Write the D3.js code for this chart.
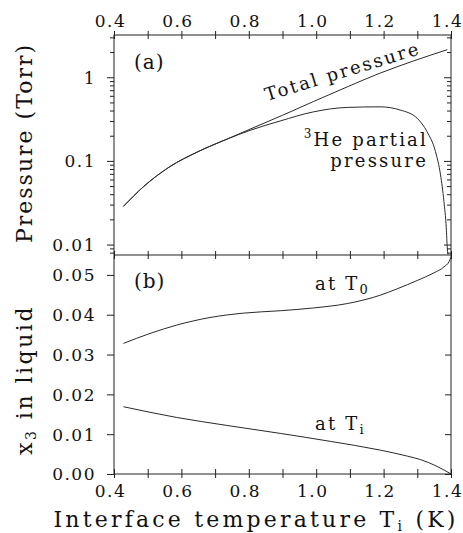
<!DOCTYPE html>
<html><head><meta charset="utf-8">
<script src="https://cdn.jsdelivr.net/npm/d3@7"></script>
<style>
body{margin:0;background:#fff;}
text{font-family:"DejaVu Serif",serif;fill:#111;}
</style></head>
<body><svg id="c" width="463" height="533"></svg>
<script>
// ---- data ----
const xTicks = [0.4, 0.6, 0.8, 1.0, 1.2, 1.4];
const pTicks = [0.01, 0.1, 1];
const xTicksB = [0.00, 0.01, 0.02, 0.03, 0.04, 0.05];

const totalT = [0.428, 0.487, 0.566, 0.646, 0.735, 0.804, 0.90, 0.992, 1.092, 1.19, 1.289, 1.389];
const totalP = [0.0286, 0.049, 0.0855, 0.127, 0.182, 0.240, 0.351, 0.513, 0.767, 1.122, 1.567, 2.138];

const partialT = [0.428, 0.487, 0.566, 0.646, 0.735, 0.804, 0.893, 0.992, 1.092, 1.19, 1.25, 1.30, 1.329, 1.354, 1.369, 1.379, 1.386, 1.389, 1.391];
const partialP = [0.0286, 0.049, 0.0855, 0.127, 0.182, 0.232, 0.30, 0.386, 0.436, 0.443, 0.405, 0.322, 0.223, 0.129, 0.068, 0.0328, 0.0158, 0.0091, 0.0076];

const t0T = [0.428, 0.507, 0.586, 0.685, 0.784, 0.893, 0.992, 1.092, 1.15, 1.19, 1.24, 1.30, 1.349, 1.379, 1.394, 1.4];
const t0X = [0.0328, 0.0353, 0.0374, 0.0393, 0.0404, 0.0410, 0.0417, 0.0428, 0.0439, 0.0449, 0.0465, 0.0486, 0.0505, 0.0520, 0.0533, 0.0545];

const tiT = [0.428, 0.586, 0.735, 0.893, 1.042, 1.19, 1.27, 1.31, 1.359, 1.4];
const tiX = [0.0169, 0.0142, 0.0122, 0.0102, 0.0082, 0.0060, 0.0045, 0.0036, 0.0019, 0.0];

// ---- layout ----
const svg = d3.select("#c");
const x = d3.scaleLinear().domain([0.4, 1.4]).range([114, 451]);
const yA = d3.scaleLog().domain([0.0075, 3.2]).range([255, 35]);
const yB = d3.scaleLinear().domain([0, 0.055]).range([474, 255]);
const ink = "#222";

function line(xs, ys, yscale) {
  return d3.line().x(d => x(d[0])).y(d => yscale(d[1])).curve(d3.curveMonotoneX)(xs.map((v, i) => [v, ys[i]]));
}
function applyAttrs(sel, o){ for (const k in o) sel.attr(k, o[k]); return sel; }

// frames
svg.append("rect").attr("x", 114).attr("y", 35).attr("width", 337).attr("height", 439)
  .attr("fill", "none").attr("stroke", ink).attr("stroke-width", 1);
svg.append("line").attr("x1", 114).attr("x2", 451).attr("y1", 255).attr("y2", 255).attr("stroke", ink);

const fmt = d3.format(".1f");
const lab = {"font-size": "17px", "letter-spacing": "1.5px"};
const xMinor = d3.range(4, 15).map(d => d / 10);
const isMajor = d => xTicks.some(v => Math.abs(v - d) < 1e-6);

// top axis
const gTop = svg.append("g").attr("transform", "translate(0,35)");
gTop.call(d3.axisTop(x).tickValues(xMinor).tickSize(0).tickFormat(""));
gTop.select(".domain").remove();
gTop.selectAll(".tick").append("line").attr("y1", -4).attr("y2", 4).attr("stroke", ink);
gTop.selectAll(".tick").filter(isMajor).append("text")
  .attr("y", -8).attr("x", -4).attr("text-anchor", "middle").text(d => fmt(d)).each(function(){ applyAttrs(d3.select(this), lab); });

// bottom of panel a ticks
const gMid = svg.append("g").attr("transform", "translate(0,255)");
gMid.call(d3.axisBottom(x).tickValues(xMinor).tickSize(0).tickFormat(""));
gMid.select(".domain").remove();
gMid.selectAll(".tick").append("line").attr("y1", -4).attr("y2", 4).attr("stroke", ink);

// bottom axis
const gBot = svg.append("g").attr("transform", "translate(0,474)");
gBot.call(d3.axisBottom(x).tickValues(xMinor).tickSize(0).tickFormat(""));
gBot.select(".domain").remove();
gBot.selectAll(".tick").append("line").attr("y1", -5).attr("y2", 4).attr("stroke", ink);
gBot.selectAll(".tick").filter(isMajor).append("text")
  .attr("y", 23).attr("x", -4).attr("text-anchor", "middle").text(d => fmt(d)).each(function(){ applyAttrs(d3.select(this), lab); });

// left log axis panel a
const minorA = [];
for (const dec of [0.001, 0.01, 0.1, 1]) for (let m = 1; m <= 9; m++) { const v = +(dec * m).toPrecision(3); if (v >= 0.0075 && v <= 3.2) minorA.push(v); }
const gLA = svg.append("g").attr("transform", "translate(114,0)");
gLA.call(d3.axisLeft(yA).tickValues(minorA).tickSize(0).tickFormat(""));
gLA.select(".domain").remove();
gLA.selectAll(".tick").append("line").attr("x1", d => pTicks.includes(d) ? -7 : -4).attr("x2", 0).attr("stroke", ink);
gLA.selectAll(".tick").filter(d => pTicks.includes(d)).append("text")
  .attr("x", -18).attr("dy", "0.35em").attr("text-anchor", "end").text(d => String(d)).each(function(){ applyAttrs(d3.select(this), lab); });
const gRA = svg.append("g").attr("transform", "translate(451,0)");
gRA.call(d3.axisRight(yA).tickValues(minorA).tickSize(0).tickFormat(""));
gRA.select(".domain").remove();
gRA.selectAll(".tick").append("line").attr("x1", d => pTicks.includes(d) ? -7 : -4).attr("x2", 0).attr("stroke", ink);

// panel b axes
const gLB = svg.append("g").attr("transform", "translate(114,0)");
gLB.call(d3.axisLeft(yB).tickValues(xTicksB).tickSize(0).tickFormat(""));
gLB.select(".domain").remove();
gLB.selectAll(".tick").append("line").attr("x1", -7).attr("x2", 0).attr("stroke", ink);
gLB.selectAll(".tick").append("text")
  .attr("x", -18).attr("dy", "0.35em").attr("text-anchor", "end").text(d => d3.format(".2f")(d)).each(function(){ applyAttrs(d3.select(this), lab); });
const gRB = svg.append("g").attr("transform", "translate(451,0)");
gRB.call(d3.axisRight(yB).tickValues(xTicksB).tickSize(0).tickFormat(""));
gRB.select(".domain").remove();
gRB.selectAll(".tick").append("line").attr("x1", -6).attr("x2", 0).attr("stroke", ink);

// curves
const cs = {fill: "none", stroke: "#2a2a2a", "stroke-width": 1};
applyAttrs(svg.append("path").attr("d", line(totalT, totalP, yA)), cs);
applyAttrs(svg.append("path").attr("d", line(partialT, partialP, yA)), cs);
applyAttrs(svg.append("path").attr("d", line(t0T, t0X, yB)), cs);
applyAttrs(svg.append("path").attr("d", line(tiT, tiX, yB)), cs);

// annotations
const ann = {"font-size": "18px", "letter-spacing": "2.2px"};
applyAttrs(svg.append("text").attr("x", 134).attr("y", 69).text("(a)"), {"font-size": "20px", "letter-spacing": "1px"});
applyAttrs(svg.append("text").attr("x", 134).attr("y", 288).text("(b)"), {"font-size": "20px", "letter-spacing": "1px"});
applyAttrs(svg.append("text").attr("transform", "translate(267,101) rotate(-17)").text("Total pressure"), {"font-size": "18px", "letter-spacing": "2.2px"});
const he = svg.append("text").attr("x", 428).attr("y", 146).attr("text-anchor", "end");
applyAttrs(he, ann);
he.append("tspan").attr("font-size", "12px").attr("dy", -8).text("3");
he.append("tspan").attr("dy", 8).text("He partial");
applyAttrs(svg.append("text").attr("x", 428).attr("y", 167).attr("text-anchor", "end").text("pressure"), ann);

const a0 = svg.append("text").attr("x", 315).attr("y", 290);
applyAttrs(a0, ann);
a0.append("tspan").text("at T");
a0.append("tspan").attr("font-size", "13px").attr("dy", 4).text("0");
const ai = svg.append("text").attr("x", 315).attr("y", 430);
applyAttrs(ai, ann);
ai.append("tspan").text("at T");
ai.append("tspan").attr("font-size", "13px").attr("dy", 4).text("i");

// axis titles
const xl = svg.append("text").attr("x", 256).attr("y", 527).attr("text-anchor", "middle");
applyAttrs(xl, {"font-size": "22px", "letter-spacing": "3.2px"});
xl.append("tspan").text("Interface temperature T");
xl.append("tspan").attr("font-size", "14px").attr("dy", 4).text("i");
xl.append("tspan").attr("dy", -4).text(" (K)");

applyAttrs(svg.append("text").attr("transform", "translate(32,143) rotate(-90)").attr("text-anchor", "middle").text("Pressure (Torr)"),
  {"font-size": "22px", "letter-spacing": "2px"});
const yl = svg.append("text").attr("transform", "translate(32,380) rotate(-90)").attr("text-anchor", "middle");
applyAttrs(yl, {"font-size": "22px", "letter-spacing": "2.5px"});
yl.append("tspan").text("x");
yl.append("tspan").attr("font-size", "14px").attr("dy", 4).text("3");
yl.append("tspan").attr("dy", -4).text(" in liquid");
</script></body></html>
